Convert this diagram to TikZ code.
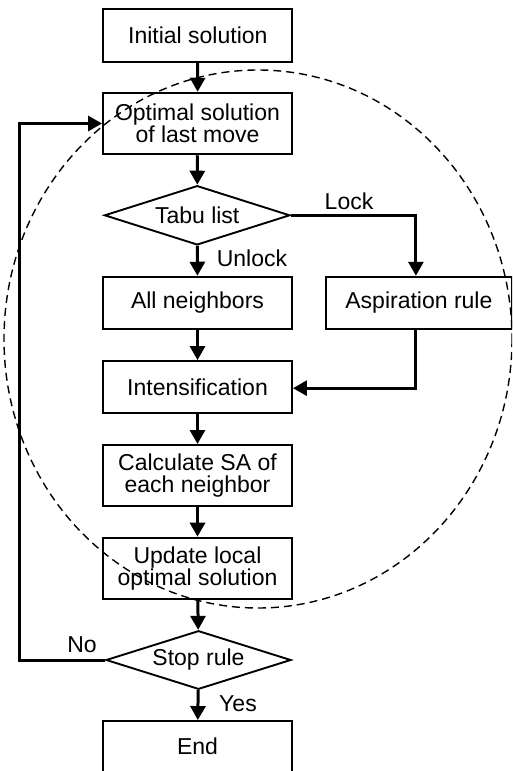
\documentclass[tikz,border=0pt]{standalone}
\usepackage{fontspec}
\setmainfont{Liberation Sans}
\usetikzlibrary{shapes.geometric,arrows.meta}
\begin{document}
\begin{tikzpicture}[x=1pt,y=-1pt,
  box/.style={draw,line width=1.9pt,rectangle,minimum width=189pt,inner sep=0pt,align=center,
    font=\fontsize{23}{22}\selectfont},
  dec/.style={draw,line width=1.9pt,diamond,aspect=3.13,inner sep=0pt,
    minimum width=185.5pt,minimum height=59.3pt,font=\fontsize{23}{22}\selectfont},
  conn/.style={line width=3pt,-{Triangle[length=14pt,width=15pt]}},
  lbl/.style={font=\fontsize{23}{22}\selectfont,inner sep=0pt}]
\useasboundingbox (0,0) rectangle (512,771);
\clip (0,0) rectangle (512,771);
\node[box,minimum height=52.7pt] (init) at (197.8,35.3) {Initial solution};
\node[box,minimum height=61.6pt] (opt) at (197.5,123.5) {Optimal solution\\of last move};
\node[dec] (tabu) at (197.2,215.3) {Tabu list};
\node[box,minimum height=52.6pt] (alln) at (197.5,303) {All neighbors};
\node[box,minimum width=186.3pt,minimum height=52.6pt] (asp) at (418.9,303) {Aspiration rule};
\node[box,minimum height=52.3pt] (int) at (197.5,387.2) {Intensification};
\node[box,minimum height=60.7pt] (calc) at (197.5,475.3) {Calculate SA of\\each neighbor};
\node[box,minimum height=61.3pt] (upd) at (197.5,568.3) {Update local\\optimal solution};
\node[dec,minimum width=185pt,minimum height=58.6pt] (stop) at (198.5,660) {Stop rule};
\node[box,minimum height=51pt] (end) at (197.5,746.5) {End};
\coordinate (loopc) at (19,660);
\draw[conn] (init) -- (opt);
\draw[conn] (opt) -- (tabu);
\draw[conn] (tabu) -- (alln);
\draw[conn] (tabu.east) -| ([xshift=-3pt]asp.north);
\draw[conn] (alln) -- (int);
\draw[conn] ([xshift=-3pt]asp.south) |- ([yshift=-1pt]int.east);
\draw[conn] (int) -- (calc);
\draw[conn] (calc) -- (upd);
\draw[conn] (upd) -- (stop);
\draw[conn] (stop) -- (end);
\draw[conn] (stop.west) -- (loopc) |- (opt.west);
\node[lbl] (lock) at (349,201) {Lock};
\node[lbl] (unlock) at (252,258) {Unlock};
\node[lbl] (no) at (82,645) {No};
\node[lbl] (yes) at (238,704) {Yes};
\draw[line width=1.4pt,dash pattern=on 8pt off 5pt] (258,339) ellipse [x radius=254, y radius=269];
\end{tikzpicture}
\end{document}
